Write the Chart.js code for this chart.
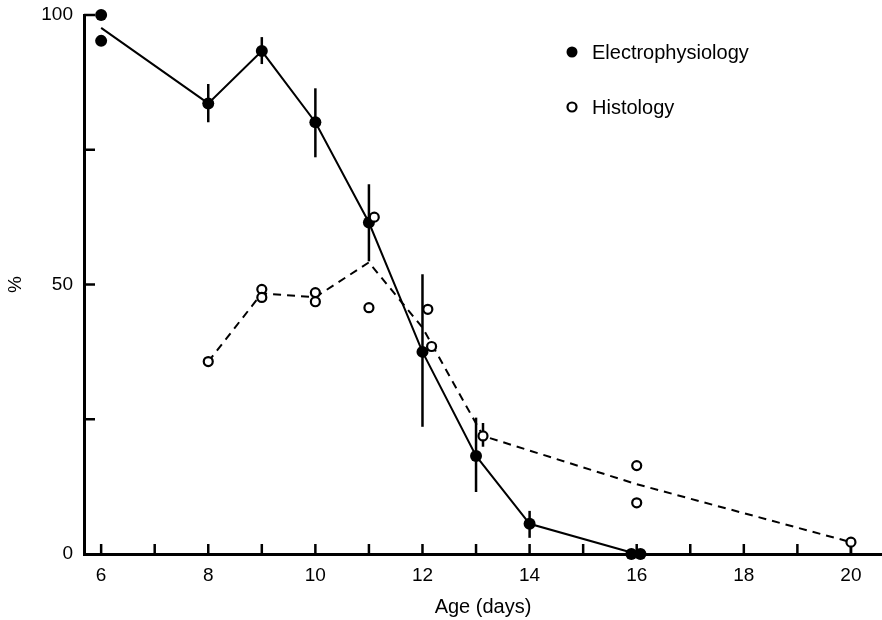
<!DOCTYPE html>
<html>
<head>
<meta charset="utf-8">
<script src="https://cdn.jsdelivr.net/npm/chart.js@4/dist/chart.umd.min.js"></script>
<style>
  body { margin: 0; background: #fff; }
  #c { display: block; }
</style>
</head>
<body>
<canvas id="c" width="882" height="620"></canvas>
<script>
// Electrophysiology: mean line, individual points, error bars
const elLineX = [6, 8, 9, 10, 11, 12, 13, 14, 16];
const elLineY = [97.6, 83.6, 93.3, 80.1, 61.5, 37.5, 18.2, 5.6, 0];
const elPtX = [6, 6, 8, 9, 10, 11, 12, 13, 14, 15.9, 16.07];
const elPtY = [100, 95.2, 83.6, 93.3, 80.1, 61.5, 37.5, 18.2, 5.6, 0, 0];
const elErrX = [8, 9, 10, 11, 12, 13, 14];
const elErrLo = [80.1, 90.9, 73.6, 54.3, 23.6, 11.5, 3.0];
const elErrHi = [87.2, 95.9, 86.4, 68.6, 51.9, 25.3, 8.0];

// Histology
const hiLineX = [8, 9, 10, 11, 12, 13.13, 16, 20];
const hiLineY = [35.7, 48.35, 47.65, 54.1, 42, 21.9, 12.95, 2.2];
const hiPtX = [8, 9, 9, 10, 10, 11, 11.1, 12.1, 12.17, 13.13, 16, 16, 20];
const hiPtY = [35.7, 49.1, 47.6, 48.5, 46.8, 45.7, 62.5, 45.4, 38.5, 21.9, 16.4, 9.5, 2.2];
const hiErrX = [13.13, 20];
const hiErrLo = [19.9, 0];
const hiErrHi = [24.3, 2.2];

const xTicks = [6, 7, 8, 9, 10, 11, 12, 13, 14, 15, 16, 17, 18, 19, 20];
const xLabels = [6, 8, 10, 12, 14, 16, 18, 20];
const yTicks = [0, 25, 50, 75, 100];
const yLabels = [0, 50, 100];

const FONT = '"Liberation Sans", Arial, sans-serif';

function pts(xs, ys) { return xs.map((x, i) => ({ x: x, y: ys[i] })); }

// no extra room for overhanging tick labels / point radius
function noPad(s) { s.paddingTop = 0; s.paddingBottom = 0; s.paddingLeft = 0; s.paddingRight = 0; }
Chart.registry.getController('scatter').prototype.getMaxOverflow = function () { return 0; };

// error bars + inner tick marks + legend
const extras = {
  id: 'extras',
  beforeDatasetsDraw(chart) {
    const ctx = chart.ctx, xs = chart.scales.x, ys = chart.scales.y;
    ctx.save();
    ctx.strokeStyle = '#000';
    ctx.lineWidth = 2.5;
    const bars = (X, L, H) => X.forEach((x, i) => {
      const px = xs.getPixelForValue(x);
      ctx.beginPath();
      ctx.moveTo(px, ys.getPixelForValue(L[i]));
      ctx.lineTo(px, ys.getPixelForValue(H[i]));
      ctx.stroke();
    });
    bars(elErrX, elErrLo, elErrHi);
    bars(hiErrX, hiErrLo, hiErrHi);
    // ticks pointing inward
    const a = chart.chartArea;
    xTicks.forEach(v => {
      const px = xs.getPixelForValue(v);
      ctx.beginPath(); ctx.moveTo(px, a.bottom); ctx.lineTo(px, a.bottom - 10); ctx.stroke();
    });
    yTicks.forEach(v => {
      if (v === 0) return;
      const py = ys.getPixelForValue(v);
      ctx.beginPath(); ctx.moveTo(a.left, py); ctx.lineTo(a.left + 11, py); ctx.stroke();
    });
    ctx.restore();
  },
  afterDraw(chart) {
    const ctx = chart.ctx;
    ctx.save();
    ctx.font = '20px ' + FONT;
    ctx.fillStyle = '#000';
    ctx.textBaseline = 'middle';
    const items = [chart.data.datasets[1], chart.data.datasets[3]];
    items.forEach((ds, i) => {
      const cy = 52 + i * 55;
      ctx.beginPath();
      if (i === 0) {
        ctx.arc(572, cy, 5.5, 0, Math.PI * 2); ctx.fill();
      } else {
        ctx.lineWidth = 2.2; ctx.strokeStyle = '#000';
        ctx.arc(572, cy, 4.5, 0, Math.PI * 2); ctx.stroke();
      }
      ctx.fillText(ds.label, 592, cy + 1);
    });
    ctx.restore();
  }
};

new Chart(document.getElementById('c'), {
  type: 'scatter',
  data: {
    datasets: [
      { label: 'Electrophysiology line', data: pts(elLineX, elLineY), showLine: true,
        borderColor: '#000', borderWidth: 2, pointRadius: 0, order: 3 },
      { label: 'Electrophysiology', data: pts(elPtX, elPtY), pointRadius: 6,
        backgroundColor: '#000', borderColor: '#000', borderWidth: 0, order: 1 },
      { label: 'Histology line', data: pts(hiLineX, hiLineY), showLine: true,
        borderColor: '#000', borderWidth: 2, borderDash: [8, 6], pointRadius: 0, order: 2 },
      { label: 'Histology', data: pts(hiPtX, hiPtY), pointRadius: 4.5,
        backgroundColor: '#fff', borderColor: '#000', borderWidth: 2.2, order: 0 }
    ]
  },
  options: {
    responsive: false,
    animation: false,
    clip: false,
    layout: { padding: { top: 15, right: 0, left: 0, bottom: 0 } },
    plugins: { legend: { display: false }, tooltip: { enabled: false } },
    scales: {
      x: {
        type: 'linear', min: 5.68, max: 20.58,
        afterBuildTicks: s => { s.ticks = xTicks.map(v => ({ value: v })); },
        afterFit: s => { s.height = 66; noPad(s); },
        grid: { display: false, drawTicks: false },
        border: { display: true, color: '#000', width: 3 },
        ticks: { color: '#000', padding: 10, maxRotation: 0, autoSkip: false,
          font: { family: FONT, size: 19 },
          callback: v => xLabels.includes(v) ? String(v) : '' },
        title: { display: true, text: 'Age (days)', color: '#000',
          font: { family: FONT, size: 20 }, padding: { top: 0, bottom: 1 } }
      },
      y: {
        type: 'linear', min: 0, max: 100,
        afterBuildTicks: s => { s.ticks = yTicks.map(v => ({ value: v })); },
        afterFit: s => { s.width = 84; noPad(s); },
        grid: { display: false, drawTicks: false },
        border: { display: true, color: '#000', width: 3 },
        ticks: { color: '#000', padding: 11, autoSkip: false,
          font: { family: FONT, size: 19 },
          callback: v => yLabels.includes(v) ? String(v) : '' },
        title: { display: true, text: '%', color: '#000',
          font: { family: FONT, size: 19 }, padding: { top: 4, bottom: 0 } }
      }
    }
  },
  plugins: [extras]
});
</script>
</body>
</html>
